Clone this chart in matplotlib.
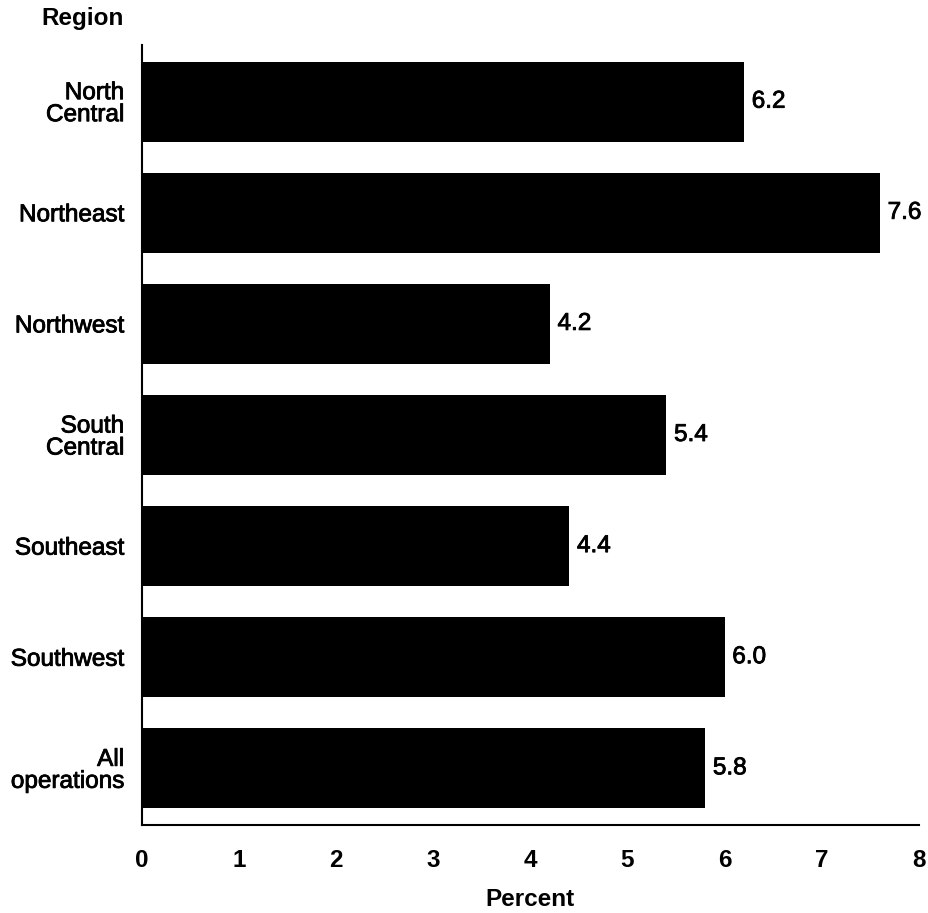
import matplotlib
matplotlib.use('Agg')
import matplotlib.pyplot as plt
import matplotlib.patheffects as pe

plt.rcParams['font.family'] = ['Liberation Sans', 'DejaVu Sans']

regions = ['North\nCentral', 'Northeast', 'Northwest', 'South\nCentral',
           'Southeast', 'Southwest', 'All\noperations']
percent = [6.2, 7.6, 4.2, 5.4, 4.4, 6.0, 5.8]
xticks = [0, 1, 2, 3, 4, 5, 6, 7, 8]

# slightly heavier stroke, the source font looks between regular and bold
heavy = [pe.withStroke(linewidth=0.6, foreground='black')]

fig = plt.figure(figsize=(9.29, 9.13), dpi=100)
ax = fig.add_axes([0.1529, 0.0964, 0.836, 0.8543])

y = list(range(len(regions)))
ax.barh(y, percent, height=0.72, color='black')
for yi, v in zip(y, percent):
    ax.text(v + 0.08, yi, f'{v:.1f}', va='center', ha='left', fontsize=17.5,
            path_effects=heavy)

ax.set_xlim(0, 8)
ax.set_ylim(len(regions) - 0.49, -0.51)
ax.set_yticks(y)
ax.set_yticklabels(regions, fontsize=17.5, linespacing=1.0)
for lab in ax.get_yticklabels():
    lab.set_path_effects(heavy)
ax.set_xticks(xticks)
ax.set_xticklabels([str(t) for t in xticks], fontsize=17.5, fontweight='bold')
ax.tick_params(axis='both', length=0)
ax.tick_params(axis='y', pad=13)
ax.tick_params(axis='x', pad=17)
ax.spines['top'].set_visible(False)
ax.spines['right'].set_visible(False)
ax.spines['left'].set_linewidth(1.5)
ax.spines['bottom'].set_linewidth(1.5)

ax.set_xlabel('Percent', fontsize=17.5, fontweight='bold', labelpad=12)
fig.text(124 / 929, 1 - 18 / 913, 'Region', ha='right', va='center',
         fontsize=17.5, fontweight='bold')

fig.savefig('out.png', dpi=100)
